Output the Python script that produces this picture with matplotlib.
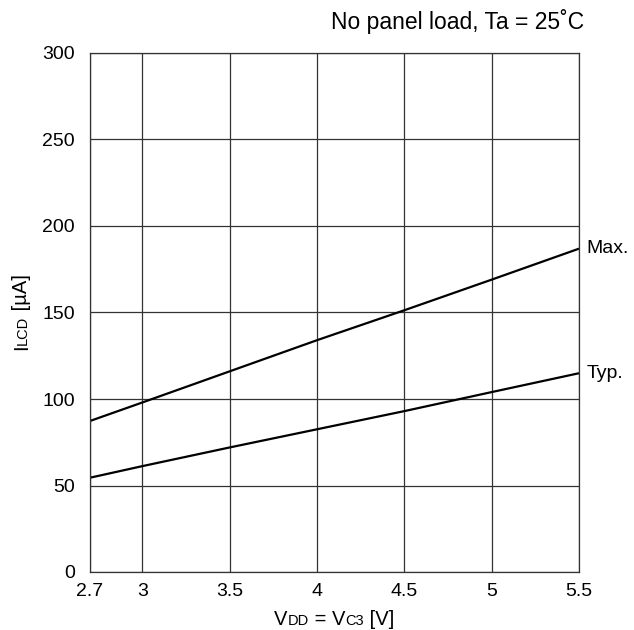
import matplotlib
matplotlib.use("Agg")
import matplotlib.pyplot as plt

plt.rcParams["font.family"] = ["Liberation Sans", "DejaVu Sans"]

# data
vdd = [2.7, 3.0, 3.5, 4.0, 4.5, 5.0, 5.5]
i_max = [87.3, 98.0, 116.0, 134.0, 151.3, 169.0, 186.9]
i_typ = [54.5, 61.2, 72.0, 82.5, 93.0, 104.0, 114.9]
x_ticks = [2.7, 3, 3.5, 4, 4.5, 5, 5.5]
x_ticklabels = ["2.7", "3", "3.5", "4", "4.5", "5", "5.5"]
y_ticks = [0, 50, 100, 150, 200, 250, 300]

W, H = 634, 630
fig = plt.figure(figsize=(W / 100, H / 100), dpi=100)
ax = fig.add_axes([90 / W, 1 - 572 / H, 489 / W, 519 / H])

grid_color = "#333333"
ax.plot(vdd, i_max, color="black", lw=1.6, solid_capstyle="butt")
ax.plot(vdd, i_typ, color="black", lw=1.6, solid_capstyle="butt")

ax.set_xlim(2.7, 5.5)
ax.set_ylim(0, 300)
ax.set_xticks(x_ticks)
ax.set_xticklabels(x_ticklabels)
ax.set_yticks(y_ticks)
ax.tick_params(length=0, labelsize=14, pad=0)
ax.tick_params(axis="x", pad=8)
ax.tick_params(axis="y", pad=11)
ax.grid(True, color=grid_color, lw=0.9)
for s in ax.spines.values():
    s.set_color(grid_color)
    s.set_linewidth(0.9)

# curve labels
ax.annotate("Max.", xy=(vdd[-1], i_max[-1]), xytext=(5.5, 0),
            textcoords="offset points", ha="left", va="center", fontsize=14,
            annotation_clip=False)
ax.annotate("Typ.", xy=(vdd[-1], i_typ[-1]), xytext=(5.5, 0),
            textcoords="offset points", ha="left", va="center", fontsize=14,
            annotation_clip=False)

fig.text(584 / W, 1 - 29 / H, "No panel load, Ta = 25˚C", ha="right",
         va="baseline", fontsize=16.5)


def mixed_text(x_px, y_px, parts, rotation=0):
    # 글자 크기가 섞인 라벨: 조각별 폭을 재서 이어 붙이고 가운데 정렬
    renderer = fig.canvas.get_renderer()
    widths = []
    for s, size in parts:
        t = fig.text(0, 0, s, fontsize=size)
        widths.append(t.get_window_extent(renderer).width)
        t.remove()
    total = sum(widths)
    pos = -total / 2
    for (s, size), w in zip(parts, widths):
        if rotation == 0:
            px, py = x_px + pos, y_px
        else:
            px, py = x_px, y_px + pos
        fig.text(px / W, py / H, s, fontsize=size, rotation=rotation,
                 rotation_mode="anchor", ha="left", va="baseline")
        pos += w


big, small = 14.5, 10.5
mixed_text(334, 5, [("V", big), ("DD", small), (" = V", big),
                    ("C3", small), (" [V]", big)])
mixed_text(27, H - 312, [("I", big), ("LCD", small), (" [µA]", big)], rotation=90)

fig.savefig("out.png", dpi=100)
